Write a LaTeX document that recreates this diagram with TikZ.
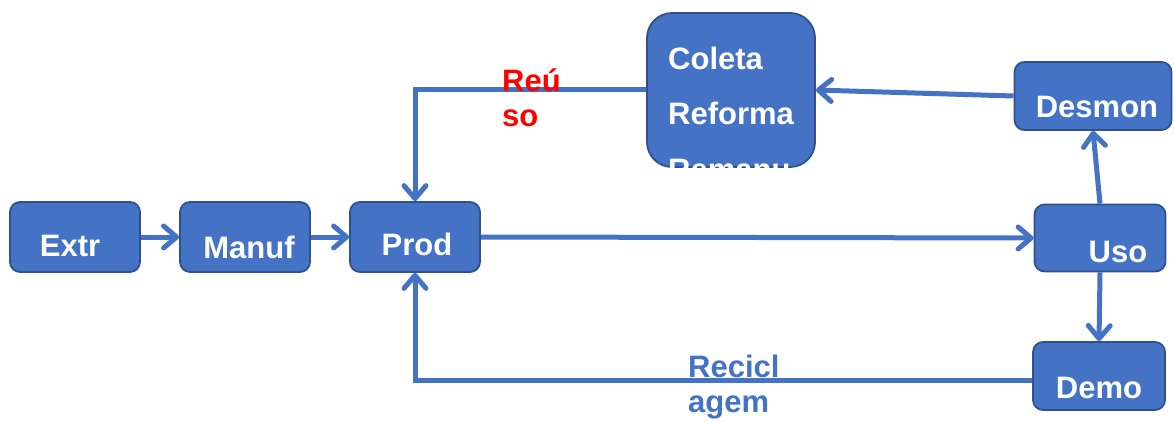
\documentclass[tikz,border=0pt]{standalone}
\usepackage{fontspec}
\setmainfont{Liberation Sans}
\usetikzlibrary{arrows.meta}
\definecolor{boxblue}{HTML}{4472C4}
\definecolor{boxedge}{HTML}{2F528F}
\tikzset{
  etapa/.style={draw=boxedge, fill=boxblue, line width=1.8pt, rounded corners=10pt, inner sep=0pt},
  rotulo/.style={text=white, font=\fontsize{31}{37}\selectfont\bfseries, inner sep=0pt, anchor=base},
  fluxo/.style={draw=boxblue, line width=5pt, -{Straight Barb[length=13pt,width=22pt,round]}},
}
\begin{document}
\begin{tikzpicture}[x=1pt,y=-1pt]
\useasboundingbox (0,0) rectangle (1174,422);
% etapas
\node[etapa, minimum width=130pt, minimum height=70pt] (extr) at (75,237) {};
\node[etapa, minimum width=130pt, minimum height=70pt] (manuf) at (245,237) {};
\node[etapa, minimum width=130pt, minimum height=70pt] (prod) at (415,237) {};
\node[etapa, minimum width=168pt, minimum height=154pt, rounded corners=25pt] (col) at (731,90) {};
\node[etapa, minimum width=157pt, minimum height=68pt] (desmon) at (1093,96) {};
\node[etapa, minimum width=131pt, minimum height=67pt] (uso) at (1100,238) {};
\node[etapa, minimum width=132pt, minimum height=68pt] (demo) at (1099,376) {};
% textos
\node[rotulo] (textr) at (70,256) {Extr};
\node[rotulo] (tmanuf) at (249,258) {Manuf};
\node[rotulo] (tprod) at (417,255) {Prod};
\node[rotulo, anchor=base west] (tcoleta) at (668,70) {Coleta};
\node[rotulo, anchor=base west] (treforma) at (668,125) {Reforma};
\node[rotulo, anchor=base west] (tremanu) at (668,180) {Remanu};
\node[rotulo] (tdesmon) at (1097,118) {Desmon};
\node[rotulo] (tuso) at (1118,262) {Uso};
\node[rotulo] (tdemo) at (1099,398) {Demo};
% fluxos
\draw[fluxo] (extr) -- (manuf);
\draw[fluxo] (manuf) -- (prod);
\draw[fluxo] (prod.east) -- (uso.west);
\draw[fluxo] (uso.north) -- (desmon.south);
\draw[fluxo] (desmon.west) -- (col.east);
\draw[fluxo] (col.west) -| (prod.north);
\draw[fluxo] (uso.south) -- (demo.north);
\draw[fluxo] ([yshift=-4pt]demo.west) -| (prod.south);
\node[rotulo, text=red, anchor=base west] (reuso1) at (502,92) {Reú};
\node[rotulo, text=red, anchor=base west] (reuso2) at (502,127) {so};
\node[rotulo, text=boxblue, anchor=base west] (recic1) at (688,377) {Recicl};
\node[rotulo, text=boxblue, anchor=base west] (recic2) at (688,412) {agem};
\end{tikzpicture}
\end{document}
